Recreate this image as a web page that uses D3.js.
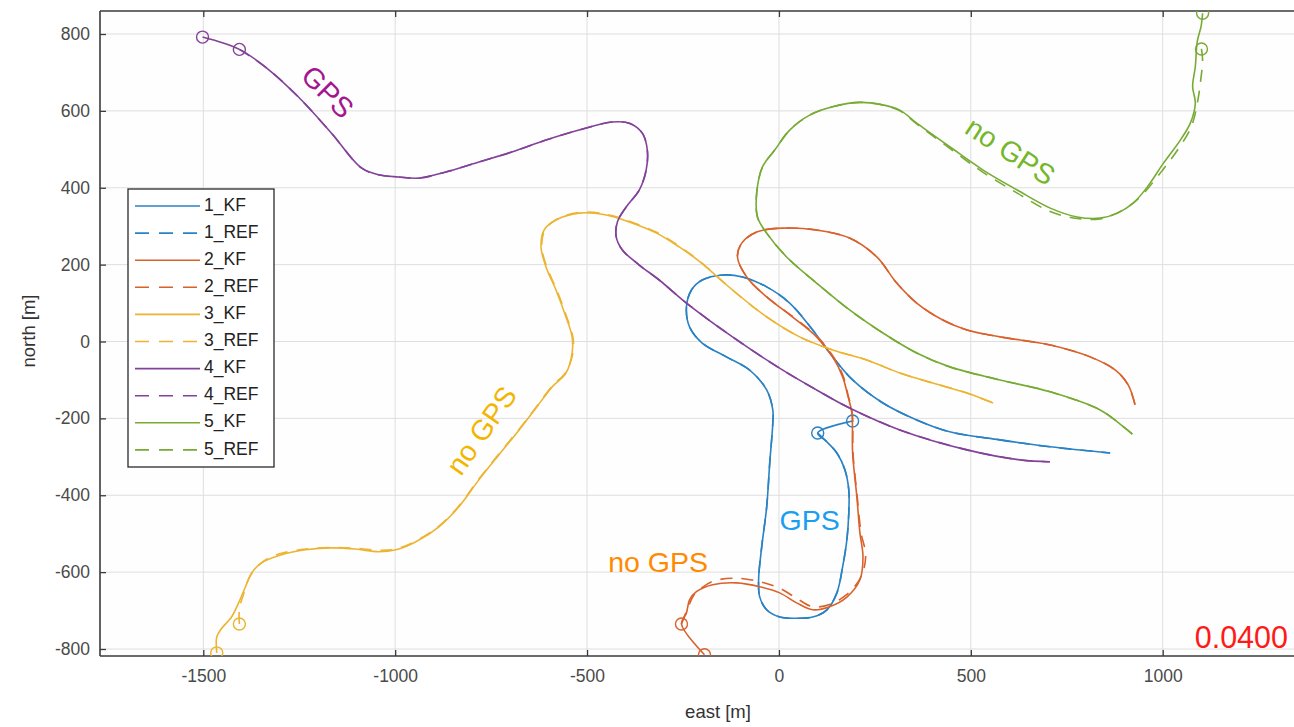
<!DOCTYPE html>
<html><head><meta charset="utf-8">
<script src="https://cdn.jsdelivr.net/npm/d3@7"></script>
<style>
html,body{margin:0;padding:0;background:#fff;}
svg{display:block;font-family:"Liberation Sans",Arial,Helvetica,sans-serif;}
</style></head>
<body>
<svg id="chart" width="1294" height="727"></svg>
<script>
// ---- data (east [m], north [m]) ----
const xTicks = [-1500, -1000, -500, 0, 500, 1000];
const yTicks = [-800, -600, -400, -200, 0, 200, 400, 600, 800];
const seriesNames = ["1_KF","1_REF","2_KF","2_REF","3_KF","3_REF","4_KF","4_REF","5_KF","5_REF"];
const seriesColors = ["#2a82c4","#2a82c4","#d9612c","#d9612c","#ecb430","#ecb430","#83429a","#83429a","#77ab34","#77ab34"];

const kf1 = [[192,-207],[101,-238],[125,-261],[151,-290],[172,-334],[182,-386],[182,-446],[177,-516],[166,-586],[151,-654],[125,-698],[88,-717],[46,-720],[2,-717],[-32,-698],[-50,-665],[-53,-620],[-45,-535],[-32,-431],[-24,-316],[-16,-212],[-16,-178],[-32,-126],[-77,-74],[-137,-40],[-200,-4],[-233,38],[-241,90],[-228,134],[-200,160],[-147,173],[-95,168],[-32,142],[28,100],[88,30],[140,-40],[192,-100],[271,-160],[359,-204],[445,-235],[576,-256],[707,-274],[863,-290]];
const ref1 = [[101,-238],[125,-261],[151,-290],[172,-334],[182,-386],[182,-446],[177,-516],[166,-586],[151,-654],[125,-698],[88,-717],[46,-720],[2,-717],[-32,-698],[-50,-665],[-53,-620],[-45,-535],[-32,-431],[-24,-316],[-16,-212],[-16,-178],[-32,-126],[-77,-74],[-137,-40],[-200,-4],[-233,38],[-241,90],[-228,134],[-200,160],[-147,173],[-95,168],[-32,142],[28,100],[88,30],[140,-40],[192,-100],[271,-160],[359,-204],[445,-235],[576,-256],[707,-274],[863,-290]];

const kf2 = [[-194,-815],[-254,-735],[-241,-706],[-233,-672],[-215,-651],[-173,-633],[-110,-628],[-50,-638],[2,-654],[46,-680],[88,-698],[132,-690],[177,-665],[211,-620],[219,-560],[211,-498],[203,-404],[192,-290],[190,-186],[179,-139],[166,-92],[140,-40],[98,12],[35,64],[-32,116],[-84,168],[-108,220],[-97,256],[-58,285],[10,295],[98,290],[184,269],[255,220],[307,152],[359,100],[427,56],[490,30],[576,12],[707,-9],[811,-40],[876,-74],[910,-113],[928,-165]];
const ref2 = [[-254,-735],[-236,-690],[-222,-660],[-200,-640],[-170,-623],[-110,-616],[-50,-625],[2,-642],[46,-668],[88,-690],[132,-684],[177,-658],[214,-612],[226,-556],[214,-498],[204,-404],[193,-290],[191,-186],[180,-139],[168,-92],[142,-40],[100,12],[37,64],[-32,116],[-84,168],[-108,220],[-97,256],[-58,285],[10,295],[98,290],[184,269],[255,220],[307,152],[359,100],[427,56],[490,30],[576,12],[707,-9],[811,-40],[876,-74],[910,-113],[928,-165]];

const kf3 = [[-1465,-810],[-1465,-769],[-1455,-750],[-1426,-716],[-1408,-680],[-1390,-638],[-1374,-602],[-1348,-576],[-1296,-555],[-1233,-542],[-1165,-537],[-1103,-540],[-1043,-547],[-998,-542],[-946,-521],[-886,-482],[-834,-430],[-782,-360],[-730,-295],[-677,-230],[-633,-173],[-591,-118],[-555,-82],[-539,-30],[-539,12],[-555,64],[-581,134],[-607,194],[-620,246],[-612,290],[-581,316],[-521,334],[-450,329],[-390,311],[-319,282],[-260,246],[-208,209],[-121,134],[-32,64],[54,12],[140,-22],[229,-48],[315,-82],[401,-108],[490,-134],[558,-160]];
const ref3 = [[-1406,-735],[-1406,-695],[-1396,-660],[-1382,-618],[-1362,-588],[-1334,-566],[-1296,-551],[-1233,-540],[-1165,-536],[-1103,-538],[-1043,-543],[-998,-540],[-946,-519],[-886,-480],[-834,-428],[-782,-358],[-730,-293],[-677,-228],[-633,-171],[-591,-116],[-555,-80],[-537,-30],[-537,12],[-553,64],[-579,134],[-605,194],[-618,246],[-610,290],[-579,318],[-521,336],[-450,331],[-390,313],[-319,284],[-260,248],[-208,210],[-121,134],[-32,64],[54,12],[140,-22],[229,-48],[315,-82],[401,-108],[490,-134],[558,-160]];

const kf4 = [[-1502,792],[-1406,760],[-1338,714],[-1252,636],[-1166,542],[-1087,451],[-1040,433],[-991,428],[-938,425],[-868,441],[-782,467],[-696,493],[-607,524],[-521,550],[-435,571],[-390,568],[-356,542],[-343,498],[-346,446],[-364,394],[-398,350],[-421,311],[-424,272],[-408,238],[-364,199],[-312,160],[-241,100],[-121,12],[9,-74],[98,-126],[184,-173],[315,-230],[490,-282],[628,-308],[706,-313]];
const ref4 = [[-1406,760],[-1338,714],[-1252,636],[-1166,542],[-1087,451],[-1040,433],[-991,428],[-938,425],[-868,441],[-782,467],[-696,493],[-607,524],[-521,550],[-435,571],[-390,568],[-356,542],[-343,498],[-346,446],[-364,394],[-398,350],[-421,311],[-424,272],[-408,238],[-364,199],[-312,160],[-241,100],[-121,12],[9,-74],[98,-126],[184,-173],[315,-230],[490,-282],[628,-308],[706,-313]];

const kf5 = [[1104,854],[1100,820],[1090,780],[1085,715],[1078,663],[1085,620],[1072,568],[1046,524],[1002,464],[960,402],[923,360],[882,334],[837,321],[777,324],[707,347],[621,394],[532,446],[446,506],[359,568],[315,602],[263,617],[211,622],[145,612],[80,589],[28,550],[-11,498],[-43,454],[-58,386],[-56,324],[-32,282],[20,220],[98,152],[184,82],[271,22],[359,-30],[445,-66],[576,-100],[707,-131],[837,-178],[889,-215],[921,-241]];
const ref5 = [[1101,761],[1104,730],[1099,680],[1092,630],[1075,560],[1040,500],[995,440],[945,380],[902,345],[862,326],[837,319],[777,320],[707,338],[621,386],[532,440],[446,502],[359,566],[315,600],[263,617],[211,622],[145,612],[80,589],[28,550],[-11,498],[-43,454],[-58,386],[-56,324],[-32,282],[20,220],[98,152],[184,82],[271,22],[359,-30],[445,-66],[576,-100],[707,-131],[837,-178],[889,-215],[921,-241]];

const seriesData = [kf1, ref1, kf2, ref2, kf3, ref3, kf4, ref4, kf5, ref5];

const notes = [
  {text:"GPS", x:-1180, y:645, rot:45, color:"#a3168f"},
  {text:"no GPS", x:600, y:490, rot:33, color:"#74b72a"},
  {text:"no GPS", x:-770, y:-235, rot:-55, color:"#f2b600"},
  {text:"GPS", x:80, y:-470, rot:0, color:"#1a9ff0"},
  {text:"no GPS", x:-315, y:-580, rot:0, color:"#ff8a00"}
];
const stampText = "0.0400";

// ---- layout ----
const svg = d3.select("#chart");
const plot = {left:100, top:11, right:1320, bottom:656};
const x = d3.scaleLinear().domain([-1500, 1000]).range([203.3, 1162.7]);
const y = d3.scaleLinear().domain([-800, 800]).range([649, 34]);

svg.append("defs").append("clipPath").attr("id","clip")
  .append("rect").attr("x",plot.left).attr("y",plot.top)
  .attr("width",plot.right-plot.left).attr("height",plot.bottom-plot.top);

svg.append("rect").attr("x",plot.left).attr("y",plot.top)
  .attr("width",plot.right-plot.left).attr("height",plot.bottom-plot.top)
  .attr("fill","#fefefe");

// grid
const grid = svg.append("g").attr("stroke","#dedede").attr("stroke-width",1);
xTicks.forEach(t=>grid.append("line").attr("x1",x(t)).attr("x2",x(t)).attr("y1",plot.top).attr("y2",plot.bottom));
yTicks.forEach(t=>grid.append("line").attr("y1",y(t)).attr("y2",y(t)).attr("x1",plot.left).attr("x2",plot.right));

// axes
const axisColor = "#3a3a3a";
const fmt = d => String(d);
const xAxis = d3.axisBottom(x).tickValues(xTicks).tickSize(-6).tickPadding(14).tickFormat(fmt);
const gx = svg.append("g").attr("transform",`translate(0,${plot.bottom})`).call(xAxis);
const xAxisTop = d3.axisTop(x).tickValues(xTicks).tickSize(-6).tickFormat("");
const gxt = svg.append("g").attr("transform",`translate(0,${plot.top})`).call(xAxisTop);
const yAxis = d3.axisLeft(y).tickValues(yTicks).tickSize(-6).tickPadding(10).tickFormat(fmt);
const gy = svg.append("g").attr("transform",`translate(${plot.left},0)`).call(yAxis);
[gx,gxt,gy].forEach(g=>{
  g.select(".domain").remove();
  g.selectAll(".tick line").attr("stroke",axisColor).attr("stroke-width",1.3);
  g.selectAll(".tick text").attr("fill","#4a4a4a").style("font-size","17.5px").style("font-family","'Liberation Sans',Arial,sans-serif");
});
svg.append("line").attr("x1",plot.left).attr("x2",plot.right).attr("y1",plot.bottom).attr("y2",plot.bottom).attr("stroke",axisColor).attr("stroke-width",1.6);
svg.append("line").attr("x1",plot.left).attr("x2",plot.right).attr("y1",plot.top).attr("y2",plot.top).attr("stroke",axisColor).attr("stroke-width",1.6);
svg.append("line").attr("x1",plot.left).attr("x2",plot.left).attr("y1",plot.top).attr("y2",plot.bottom).attr("stroke",axisColor).attr("stroke-width",1.6);

svg.append("text").attr("x",718).attr("y",718).attr("text-anchor","middle")
  .attr("fill","#333").style("font-size","18.5px").text("east [m]");
svg.append("text").attr("transform","translate(35,331) rotate(-90)").attr("text-anchor","middle")
  .attr("fill","#333").style("font-size","18.5px").text("north [m]");

// series
const lineGen = d3.line().x(d=>x(d[0])).y(d=>y(d[1])).curve(d3.curveCatmullRom.alpha(0.5));
const gl = svg.append("g").attr("clip-path","url(#clip)");
seriesData.forEach((data,i)=>{
  const dashed = i % 2 === 1;
  gl.append("path").datum(data).attr("d",lineGen).attr("fill","none")
    .attr("stroke",seriesColors[i]).attr("stroke-width",1.6)
    .attr("stroke-dasharray", dashed ? "12,9" : null);
  gl.append("circle").attr("cx",x(data[0][0])).attr("cy",y(data[0][1])).attr("r",6)
    .attr("fill","none").attr("stroke",seriesColors[i]).attr("stroke-width",1.4);
});

// annotations
notes.forEach(n=>{
  svg.append("text").attr("transform",`translate(${x(n.x)},${y(n.y)}) rotate(${n.rot})`)
    .attr("text-anchor","middle").attr("dominant-baseline","middle")
    .attr("fill",n.color).style("font-size","28.5px").text(n.text);
});
svg.append("text").attr("x",1288).attr("y",648).attr("text-anchor","end")
  .attr("fill","#ff1a1a").style("font-size","30.5px").text(stampText);

// legend
const lg = svg.append("g");
lg.append("rect").attr("x",128).attr("y",189).attr("width",146).attr("height",278)
  .attr("fill","#fff").attr("stroke","#2a2a2a").attr("stroke-width",1.3);
seriesNames.forEach((name,i)=>{
  const yy = 206 + i*27.1;
  lg.append("line").attr("x1",135).attr("x2",200).attr("y1",yy).attr("y2",yy)
    .attr("stroke",seriesColors[i]).attr("stroke-width",1.6)
    .attr("stroke-dasharray", i%2===1 ? "14,10" : null);
  lg.append("text").attr("x",204).attr("y",yy).attr("dominant-baseline","middle")
    .attr("fill","#222").style("font-size","17.5px").text(name);
});
</script>
</body></html>
